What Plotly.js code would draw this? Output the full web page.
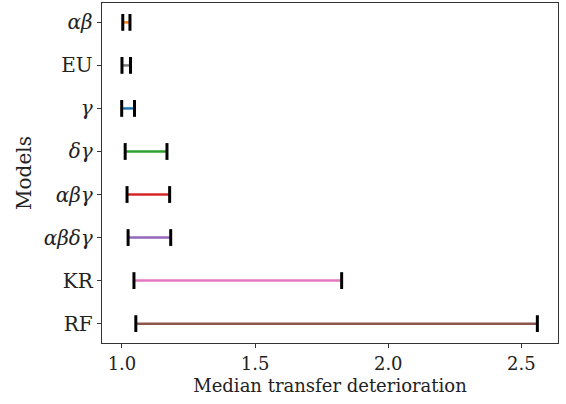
<!DOCTYPE html>
<html>
<head>
<meta charset="utf-8">
<script src="https://cdn.plot.ly/plotly-3.0.1.min.js"></script>
<style>html,body{margin:0;padding:0;background:#fff;}#chart{width:566px;height:404px;}</style>
</head>
<body>
<div id="chart"></div>
<script>
// Model categories (top to bottom)
const models = ["αβ", "EU", "γ", "δγ", "αβγ", "αβδγ", "KR", "RF"];
const tickLabels = ["<i>αβ</i>", "EU", "<i>γ</i>", "<i>δγ</i>", "<i>αβγ</i>", "<i>αβδγ</i>", "KR", "RF"];
// Interval lower / upper bounds of median transfer deterioration
const lower = [1.003, 1.000, 0.999, 1.012, 1.019, 1.023, 1.045, 1.052];
const upper = [1.030, 1.032, 1.047, 1.169, 1.179, 1.183, 1.825, 2.560];
const colors = ["#ff7f0e", "#7f7f7f", "#1f77b4", "#2ca02c", "#d62728", "#9467bd", "#e377c2", "#8c564b"];

const traces = models.map((m, i) => ({
  type: "scatter",
  mode: "lines+markers",
  x: [lower[i], upper[i]],
  y: [m, m],
  line: {color: colors[i], width: 2.5},
  marker: {symbol: "line-ns", size: 12, color: "#000", line: {color: "#000", width: 3}},
  showlegend: false,
  hoverinfo: "skip"
}));

const fam = "'DejaVu Serif', serif";
const font = {family: fam, color: "#222", size: 18};

const layout = {
  width: 566, height: 404,
  margin: {l: 102, r: 8, t: 3, b: 61},
  paper_bgcolor: "#fff", plot_bgcolor: "#fff",
  font: font,
  showlegend: false,
  xaxis: {
    range: [0.925, 2.6375],
    tickvals: [1.0, 1.5, 2.0, 2.5],
    ticktext: ["1.0", "1.5", "2.0", "2.5"],
    ticks: "outside", ticklen: 4, tickwidth: 1, tickcolor: "#333",
    showgrid: false, zeroline: false,
    showline: true, linecolor: "#333", linewidth: 1.3, mirror: true,
    tickfont: {family: fam, color: "#222", size: 18},
    title: {text: "Median transfer deterioration", font: {family: fam, color: "#222", size: 18}, standoff: 6}
  },
  yaxis: {
    type: "category",
    categoryorder: "array", categoryarray: models,
    range: [7.45, -0.45],
    tickvals: models, ticktext: tickLabels,
    ticks: "outside", ticklen: 4, tickwidth: 1, tickcolor: "#333",
    showgrid: false, zeroline: false,
    showline: true, linecolor: "#333", linewidth: 1.3, mirror: true,
    tickfont: {family: fam, color: "#222", size: 20},
    title: {text: "Models", font: {family: fam, color: "#222", size: 20}, standoff: 6}
  }
};

Plotly.newPlot("chart", traces, layout, {displayModeBar: false, staticPlot: true});
</script>
</body>
</html>
